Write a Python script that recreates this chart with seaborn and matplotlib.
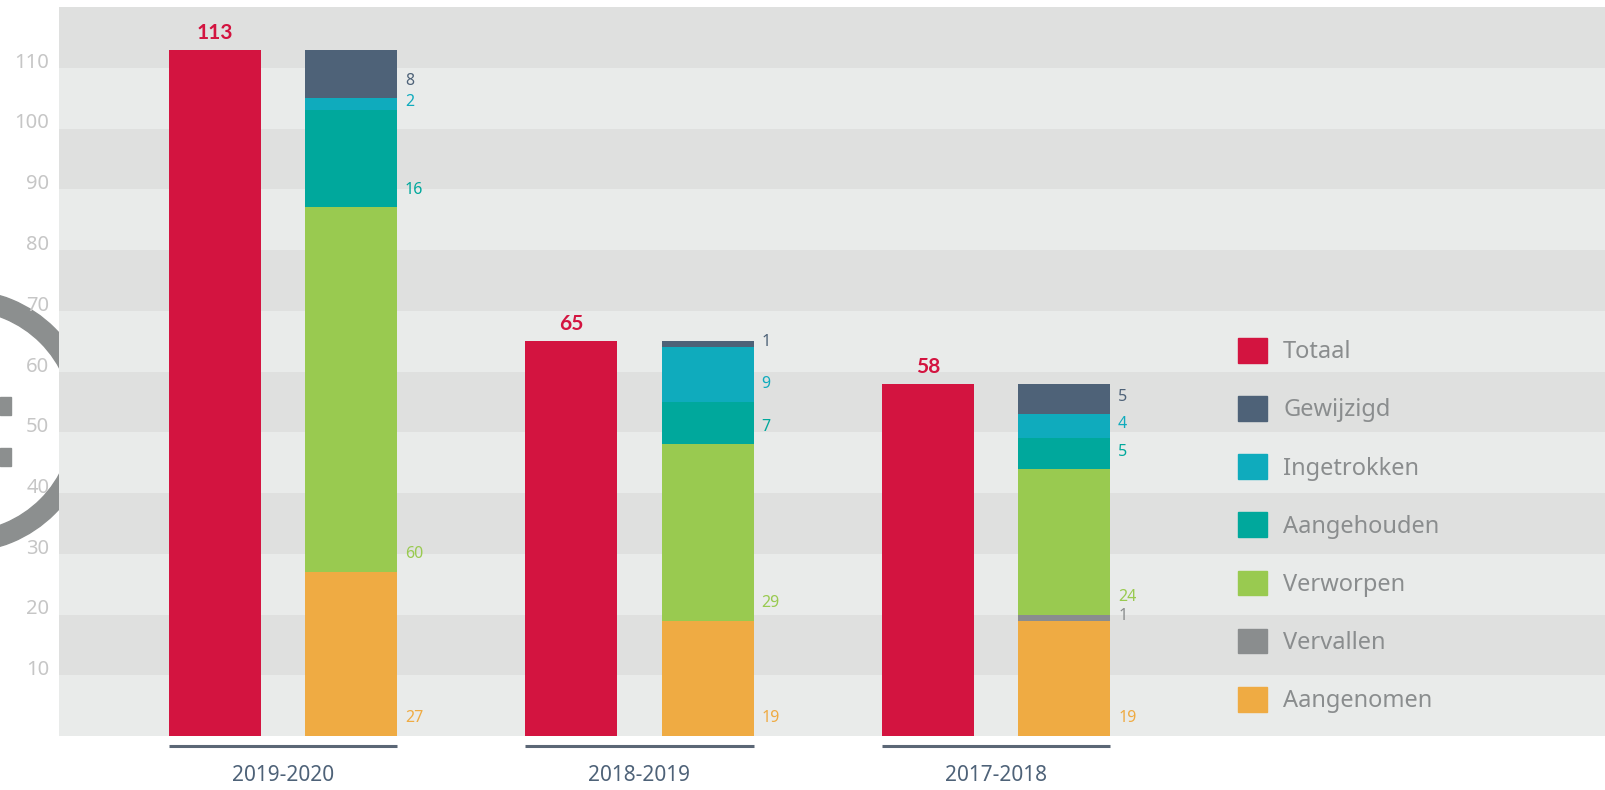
import numpy as np
import pandas as pd
import matplotlib
matplotlib.use("Agg")
import matplotlib.pyplot as plt
from matplotlib.patches import Patch, Rectangle, Wedge
from matplotlib.transforms import IdentityTransform
import seaborn as sns

# data
periodes = ["2019-2020", "2018-2019", "2017-2018"]
totaal = [113, 65, 58]
aangenomen = [27, 19, 19]
vervallen = [0, 0, 1]
verworpen = [60, 29, 24]
aangehouden = [16, 7, 5]
ingetrokken = [2, 9, 4]
gewijzigd = [8, 1, 5]

# stack order, bottom to top
lagen = ["Aangenomen", "Vervallen", "Verworpen", "Aangehouden", "Ingetrokken", "Gewijzigd"]
legenda = ["Totaal", "Gewijzigd", "Ingetrokken", "Aangehouden", "Verworpen", "Vervallen", "Aangenomen"]

kleuren = {
    "Totaal": "#d31440",
    "Gewijzigd": "#4e6278",
    "Ingetrokken": "#0fabbd",
    "Aangehouden": "#00a89c",
    "Verworpen": "#99ca50",
    "Vervallen": "#8a8d8e",
    "Aangenomen": "#efab43",
}
BAND_DONKER = "#dfe0df"
BAND_LICHT = "#e9ebea"

sns.set_style("white")
plt.rcParams["font.family"] = ["Noto Sans", "DejaVu Sans"]

W, H = 1606, 790
fig = plt.figure(figsize=(W / 100, H / 100), dpi=100)
ax = fig.add_axes([59 / W, 54 / H, (W - 59) / W, 729 / H])
ax.set_facecolor(BAND_LICHT)

# decoration on the left edge (ring + two blocks), mostly hidden behind the axes
ring = Wedge((-38, H - 421), 131, 0, 360, width=20, color="#8c8f8f",
             transform=IdentityTransform(), zorder=-1)
fig.add_artist(ring)
for top in (397, 448):
    fig.add_artist(Rectangle((0, H - top - 18), 11, 18, color="#8c8f8f",
                             transform=IdentityTransform(), zorder=-1))

wide = pd.DataFrame({
    "Periode": periodes,
    "Totaal": totaal,
    "Aangenomen": aangenomen,
    "Vervallen": vervallen,
    "Verworpen": verworpen,
    "Aangehouden": aangehouden,
    "Ingetrokken": ingetrokken,
    "Gewijzigd": gewijzigd,
})
cum = wide[lagen].cumsum(axis=1)

BREEDTE = 0.764
GAP = 0.325

# paint cumulative heights from top layer down
for laag in reversed(lagen):
    laag_df = pd.DataFrame({
        "Periode": periodes * 2,
        "Kolom": ["Totaal"] * len(periodes) + ["Uitsplitsing"] * len(periodes),
        "Waarde": totaal + list(cum[laag]),
    })
    sns.barplot(data=laag_df, x="Periode", y="Waarde", hue="Kolom",
                order=periodes, hue_order=["Totaal", "Uitsplitsing"],
                palette={"Totaal": kleuren["Totaal"], "Uitsplitsing": kleuren[laag]},
                width=BREEDTE, gap=GAP, dodge=True, saturation=1,
                errorbar=None, linewidth=0, legend=False, ax=ax, zorder=3)

# horizontal bands
ax.set_ylim(0, 120)
for y0 in range(10, 120, 20):
    ax.axhspan(y0, y0 + 10, color=BAND_DONKER, zorder=0, lw=0)

ax.set_yticks(range(10, 120, 10))
ax.set_yticklabels([str(v) for v in range(10, 120, 10)])
for lbl in ax.get_yticklabels():
    lbl.set_va("baseline")
ax.tick_params(axis="y", length=0, pad=7, labelsize=14.5, labelcolor="#c6c6c6")
ax.tick_params(axis="x", length=0, pad=21, labelsize=15, labelcolor="#4e6278")
ax.set_xlabel("")
ax.set_ylabel("")
ax.set_xlim(-0.628, 3.711)
for s in ax.spines.values():
    s.set_visible(False)

balk = BREEDTE / 2 * (1 - GAP)
for i, per in enumerate(periodes):
    links = i - BREEDTE / 4
    rechts = i + BREEDTE / 4
    # total value above red bar
    ax.annotate(str(totaal[i]), xy=(links, totaal[i]), xytext=(0, 7),
                textcoords="offset pixels", ha="center", va="bottom",
                fontsize=15, fontweight="bold", family=["Lato", "DejaVu Sans"],
                color=kleuren["Totaal"])
    # segment values right of the stacked bar
    for laag in lagen:
        v = wide.loc[i, laag]
        if v == 0:
            continue
        onder = cum.loc[i, laag] - v
        y = onder + min(2.9, v / 2 + 0.3)
        ax.annotate(str(v), xy=(rechts + balk / 2, y), xytext=(8, 0),
                    textcoords="offset pixels", ha="left", va="center",
                    fontsize=11.5, color=kleuren[laag])
    # underline below each group
    ax.plot([links - balk / 2, rechts + balk / 2], [-10 / 729, -10 / 729],
            transform=ax.get_xaxis_transform(), clip_on=False,
            color="#5b6776", lw=2.2, solid_capstyle="butt")

handles = [Patch(color=kleuren[k]) for k in legenda]
ax.legend(handles, legenda, loc="upper left",
          bbox_to_anchor=(1238 / W, (H - 338) / H), bbox_transform=fig.transFigure,
          frameon=False, fontsize=17, handlelength=1.23, handleheight=1.23,
          handletextpad=0.68, labelspacing=1.35, borderpad=0, borderaxespad=0,
          labelcolor="#8a8d8e")

fig.savefig("out.png", dpi=100)
